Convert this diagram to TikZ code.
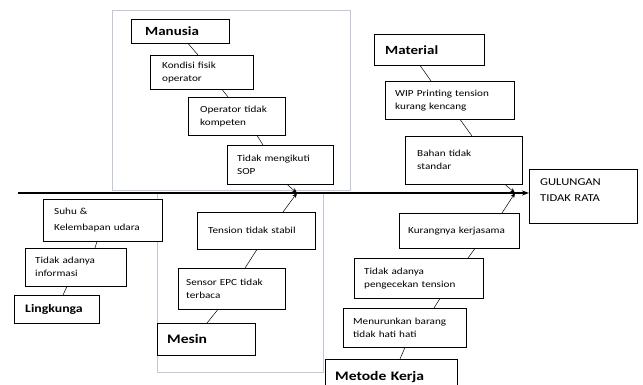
\documentclass[tikz,border=0pt]{standalone}
\usepackage{fontspec}
\setmainfont[FakeStretch=1.2]{Carlito}
\usetikzlibrary{arrows.meta}

\tikzset{
  cause/.style={draw, fill=white, anchor=north west, align=left, inner xsep=10pt,
    font=\fontsize{9.3}{13}\selectfont},
  head/.style={cause, inner xsep=11pt, font=\fontsize{12.5}{14}\selectfont\bfseries},
  frame/.style={draw={rgb,255:red,190;green,200;blue,214}, line width=0.8pt},
  bone/.style={line width=0.5pt},
  hit/.style={bone, -{Stealth[length=5pt,width=4pt]}}
}

\begin{document}
\begin{tikzpicture}[x=1pt,y=-1pt]
        \clip (0,0) rectangle (643,385);
        \fill[white] (0,0) rectangle (643,385);
        % grouping frames
        \draw[frame] (112,10) rectangle (350,190);
        \draw[frame] (157,193) rectangle (323,372);
        % spine
        \coordinate (tail) at (18,193);
        \coordinate (m1) at (297,193);
        \coordinate (m2) at (515,193);
        \node[cause, inner xsep=11pt, text width=86pt, minimum height=54pt, font=\fontsize{10.5}{16}\selectfont] (effect) at (529,169) {GULUNGAN\\TIDAK RATA\\[-4pt]\mbox{}};
        \draw[line width=1.6pt, -{Stealth[length=7pt,width=5pt]}] (tail) -- (tail -| effect.west);
        % Manusia
        \node[head, inner xsep=14pt, text width=70pt, minimum height=24pt] (manusia) at (131,19) {Manusia};
        \node[cause, inner xsep=12pt, text width=79pt, minimum height=34pt] (fisik) at (150,55) {Kondisi fisik\\operator};
        \node[cause, inner xsep=12pt, text width=73pt, minimum height=38pt] (kompeten) at (188,97) {Operator tidak\\kompeten};
        \node[cause, text width=86pt, minimum height=39pt] (sop) at (227,145) {Tidak mengikuti\\SOP};
        \draw[bone] ([xshift=57pt]manusia.south west) -- ([xshift=48pt]fisik.north west);
        \draw[bone] ([xshift=72pt]fisik.south west) -- ([xshift=40pt]kompeten.north west);
        \draw[bone] ([xshift=69pt]kompeten.south west) -- ([xshift=36pt]sop.north west);
        \draw[hit] ([xshift=60pt]sop.south west) -- (m1);
        % Material
        \node[head, text width=88pt, minimum height=31pt] (material) at (374,34) {Material};
        \node[cause, text width=109pt, minimum height=38pt] (wip) at (385,81) {WIP Printing tension\\kurang kencang};
        \node[cause, inner xsep=12pt, text width=93pt, minimum height=48pt] (bahan) at (405,136) {Bahan tidak\\standar};
        \draw[bone] ([xshift=46pt]material.south west) -- ([xshift=46pt]wip.north west);
        \draw[bone] ([xshift=75pt]wip.south west) -- ([xshift=67pt]bahan.north west);
        \draw[hit] ([xshift=100pt]bahan.south west) -- (m2);
        % Lingkungan
        \node[cause, inner xsep=11pt, text width=97pt, minimum height=42pt, font=\fontsize{9.3}{16}\selectfont] (suhu) at (43,199) {Suhu \&\\Kelembapan udara};
        \node[cause, text width=81pt, minimum height=38pt] (info) at (25,248) {Tidak adanya\\informasi};
        \node[head, font=\fontsize{11.5}{13}\selectfont\bfseries, text width=63pt, minimum height=28pt] (lingk) at (14,295) {Lingkunga};
        \draw[bone] ([xshift=87pt]suhu.north west) -- (suhu.north west -| 130,193);
        \draw[bone] ([xshift=54pt]suhu.south west) -- ([xshift=70pt]info.north west);
        \draw[bone] ([xshift=42pt]info.south west) -- ([xshift=49pt]lingk.north west);
        % Mesin
        \node[cause, inner xsep=11pt, text width=96pt, minimum height=37pt] (tension) at (197,212) {Tension tidak stabil};
        \node[cause, inner xsep=8pt, text width=91pt, minimum height=41pt] (sensor) at (178,268) {Sensor EPC tidak\\terbaca};
        \node[head, inner xsep=10pt, font=\fontsize{13}{15}\selectfont\bfseries, text width=78pt, minimum height=32pt] (mesin) at (157,323) {Mesin};
        \draw[hit] ([xshift=86pt]tension.north west) -- (m1);
        \draw[bone] ([xshift=60pt]tension.south west) -- ([xshift=67pt]sensor.north west);
        \draw[bone] ([xshift=40pt]sensor.south west) -- ([xshift=50pt]mesin.north west);
        % Metode Kerja
        \node[cause, inner xsep=9pt, text width=102pt, minimum height=35pt] (kerjasama) at (399,213) {Kurangnya kerjasama};
        \node[cause, text width=109pt, minimum height=40pt] (cek) at (354,258) {Tidak adanya\\pengecekan tension};
        \node[cause, text width=103pt, minimum height=39pt] (turun) at (343,308) {Menurunkan barang\\tidak hati hati};
        \node[head, inner xsep=10pt, font=\fontsize{13}{15}\selectfont\bfseries, text width=112pt, minimum height=35pt] (metode) at (325,359) {Metode Kerja};
        \draw[hit] ([xshift=103pt]kerjasama.north west) -- (m2);
        \draw[bone] ([xshift=76pt]kerjasama.south west) -- ([xshift=114pt]cek.north west);
        \draw[bone] ([xshift=86pt]cek.south west) -- ([xshift=91pt]turun.north west);
        \draw[bone] ([xshift=62pt]turun.south west) -- ([xshift=75pt]metode.north west);
\end{tikzpicture}
\end{document}
